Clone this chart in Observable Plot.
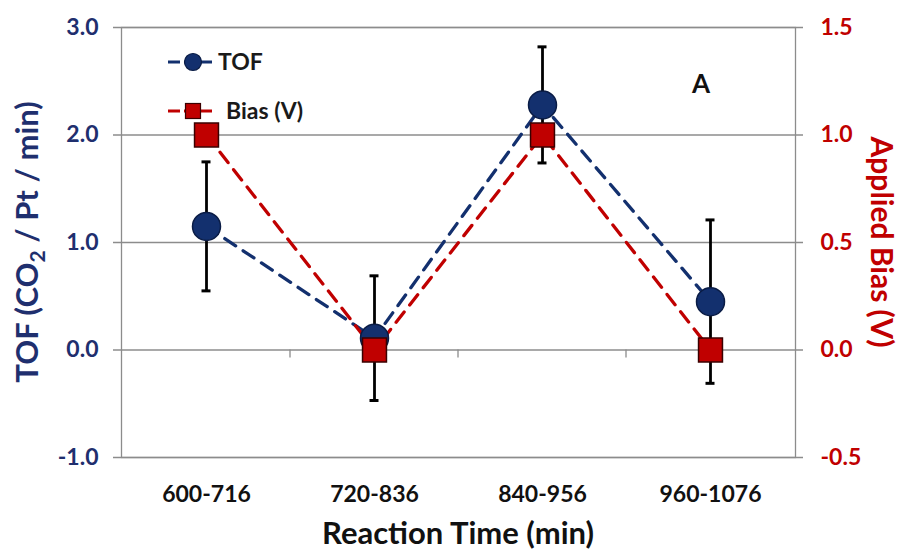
<!DOCTYPE html>
<html>
<head>
<meta charset="utf-8">
<script src="https://cdn.jsdelivr.net/npm/d3@7"></script>
<script src="https://cdn.jsdelivr.net/npm/@observablehq/plot@0.6"></script>
<style>
  html, body { margin: 0; padding: 0; background: #fff; }
  #chart { width: 904px; height: 552px; }
</style>
</head>
<body>
<div id="chart"></div>
<script>
// ---- Data ----
const categories = ["600-716", "720-836", "840-956", "960-1076"];
const tofValues = [1.15, 0.11, 2.28, 0.45];
const tofErrors = [0.60, 0.58, 0.54, 0.76];
const biasValues = [1.0, 0.0, 1.0, 0.0];
const leftTicks = [-1, 0, 1, 2, 3];
const rightTicks = [-0.5, 0.0, 0.5, 1.0, 1.5];
const biasFactor = 2; // right axis value * 2 = left axis value

const NAVY = "#13306e";
const NAVY_TXT = "#1f2f6e";
const RED = "#c00000";
const GRID = "#8c8c8c";
const FONT = "Lato, 'Open Sans', sans-serif";

const tofData = categories.map((c, i) => ({cat: c, v: tofValues[i], lo: tofValues[i] - tofErrors[i], hi: tofValues[i] + tofErrors[i]}));
const biasData = categories.map((c, i) => ({cat: c, v: biasValues[i] * biasFactor}));
const rightTickData = rightTicks.map(t => ({y: t * biasFactor, label: t.toFixed(1)}));

// category separators on the zero line + legend + titles
function decorations(index, scales, values, dims) {
  const g = d3.create("svg:g").attr("text-anchor", "start");
  const x = scales.x, y = scales.y;
  const step = x(categories[1]) - x(categories[0]);
  const y0 = y(0);
  for (let i = 1; i < categories.length; i++) {
    const xs = x(categories[i]) - step / 2;
    g.append("line").attr("x1", xs).attr("x2", xs).attr("y1", y0).attr("y2", y0 + 8)
      .attr("stroke", GRID).attr("stroke-width", 1.3);
  }
  const L = dims.marginLeft, T = dims.marginTop;
  const R = dims.width - dims.marginRight, B = dims.height - dims.marginBottom;
  // legend
  const lx = L + 47, ly1 = T + 35, ly2 = T + 84;
  g.append("line").attr("x1", lx).attr("x2", lx + 44).attr("y1", ly1).attr("y2", ly1)
    .attr("stroke", NAVY).attr("stroke-width", 3.2).attr("stroke-dasharray", "12,4");
  g.append("circle").attr("cx", lx + 25).attr("cy", ly1).attr("r", 8.5)
    .attr("fill", NAVY).attr("stroke", "#0a1c45").attr("stroke-width", 1.2);
  g.append("text").attr("x", lx + 50).attr("y", ly1).attr("dy", "0.36em").attr("text-anchor", "start")
    .attr("font-size", 23).attr("font-weight", "bold").attr("fill", "#1a1a1a").attr("font-family", FONT).text("TOF");
  g.append("line").attr("x1", lx).attr("x2", lx + 44).attr("y1", ly2).attr("y2", ly2)
    .attr("stroke", RED).attr("stroke-width", 3.2).attr("stroke-dasharray", "12,4");
  g.append("rect").attr("x", lx + 25 - 7.5).attr("y", ly2 - 7.5).attr("width", 15).attr("height", 15)
    .attr("fill", RED).attr("stroke", "#3a0000").attr("stroke-width", 1.2);
  g.append("text").attr("x", lx + 58).attr("y", ly2).attr("dy", "0.36em").attr("text-anchor", "start")
    .attr("font-size", 23).attr("font-weight", "bold").attr("fill", "#1a1a1a").attr("font-family", FONT).text("Bias (V)");
  // panel letter
  g.append("text").attr("x", R - 94).attr("y", T + 57).attr("dy", "0.36em").attr("text-anchor", "middle")
    .attr("font-size", 26).attr("font-weight", "bold").attr("fill", "#111").attr("font-family", FONT).text("A");
  // left title with subscript
  const cy = (T + B) / 2;
  const lt = g.append("text").attr("transform", `translate(${L - 94},${cy}) rotate(-90)`)
    .attr("text-anchor", "middle").attr("dy", "0.36em").attr("font-size", 31).attr("font-weight", "bold")
    .attr("fill", NAVY_TXT).attr("font-family", FONT);
  lt.append("tspan").text("TOF (CO");
  lt.append("tspan").attr("font-size", 21).attr("dy", 7).text("2");
  lt.append("tspan").attr("dy", -7).text(" / Pt / min)");
  // right title
  g.append("text").attr("transform", `translate(${R + 87},${cy}) rotate(90)`)
    .attr("text-anchor", "middle").attr("dy", "0.36em").attr("font-size", 30).attr("font-weight", "bold")
    .attr("fill", RED).attr("font-family", FONT).text("Applied Bias (V)");
  // bottom title
  g.append("text").attr("x", (L + R) / 2).attr("y", B + 76).attr("dy", "0.36em").attr("text-anchor", "middle")
    .attr("font-size", 31).attr("font-weight", "bold").attr("fill", "#111").attr("font-family", FONT)
    .text("Reaction Time (min)");
  return g.node();
}

const chart = Plot.plot({
  width: 904,
  height: 552,
  marginLeft: 121,
  marginRight: 109,
  marginTop: 27,
  marginBottom: 95,
  style: {fontFamily: FONT, background: "#fff"},
  x: {type: "point", domain: categories, padding: 0.5, axis: null},
  y: {domain: [-1, 3], axis: null},
  marks: [
    Plot.ruleY(leftTicks, {stroke: GRID, strokeWidth: 1.3, insetLeft: -8, insetRight: -8}),
    Plot.frame({stroke: GRID, strokeWidth: 1.3}),
    Plot.axisX({tickSize: 0, tickPadding: 28, fontSize: 23, fontWeight: "bold", fill: "#111", label: null}),
    Plot.axisY({ticks: leftTicks, tickSize: 0, tickPadding: 23, tickFormat: d => d.toFixed(1),
      fontSize: 23, fontWeight: "bold", fill: NAVY_TXT, label: null}),
    Plot.text(rightTickData, {y: "y", text: "label", frameAnchor: "right", textAnchor: "start", dx: 25,
      fontSize: 23, fontWeight: "bold", fill: RED}),
    Plot.line(tofData, {x: "cat", y: "v", stroke: NAVY, strokeWidth: 3.3, strokeDasharray: "13,9"}),
    Plot.line(biasData, {x: "cat", y: "v", stroke: RED, strokeWidth: 3.3, strokeDasharray: "13,9"}),
    Plot.ruleX(tofData, {x: "cat", y1: "lo", y2: "hi", stroke: "#000", strokeWidth: 2.8}),
    Plot.ruleY(tofData, {x1: "cat", x2: "cat", y: "lo", stroke: "#000", strokeWidth: 3, insetLeft: -4.5, insetRight: -4.5}),
    Plot.ruleY(tofData, {x1: "cat", x2: "cat", y: "hi", stroke: "#000", strokeWidth: 3, insetLeft: -4.5, insetRight: -4.5}),
    Plot.dot(tofData, {x: "cat", y: "v", r: 14, fill: NAVY, stroke: "#0a1c45", strokeWidth: 1.5}),
    Plot.dot(biasData, {x: "cat", y: "v", r: 13.5, symbol: "square", fill: RED, stroke: "#3a0000", strokeWidth: 1.5}),
    decorations
  ]
});
document.getElementById("chart").appendChild(chart);
</script>
</body>
</html>
